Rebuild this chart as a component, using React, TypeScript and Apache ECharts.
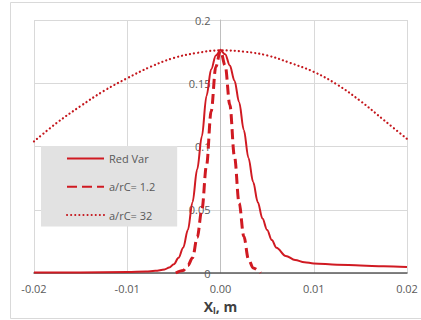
import React, { useEffect, useRef } from "react";
import * as echarts from "echarts";

const seriesNames = ["Red Var", "a/rC= 1.2", "a/rC= 32"];

const redVarX = [-0.02, -0.015, -0.01, -0.008, -0.007, -0.006, -0.0055, -0.005, -0.0045, -0.004, -0.0035, -0.003, -0.0025, -0.002, -0.0015, -0.001, -0.0005, 0, 0.0005, 0.001, 0.0015, 0.002, 0.0025, 0.003, 0.0035, 0.004, 0.0045, 0.005, 0.0055, 0.006, 0.007, 0.008, 0.009, 0.01, 0.0125, 0.015, 0.0175, 0.02];
const redVarY = [0.0003, 0.0004, 0.0007, 0.0012, 0.0017, 0.0028, 0.0043, 0.007, 0.012, 0.02, 0.034, 0.056, 0.082, 0.108, 0.14, 0.161, 0.172, 0.176, 0.173, 0.164, 0.152, 0.135, 0.113, 0.091, 0.072, 0.056, 0.043, 0.034, 0.026, 0.02, 0.0135, 0.0103, 0.0085, 0.0076, 0.0066, 0.0059, 0.0053, 0.0047];

const dashX = [-0.0048, -0.004, -0.0035, -0.003, -0.0025, -0.002, -0.0015, -0.001, -0.0005, 0, 0.0005, 0.001, 0.0015, 0.002, 0.0025, 0.003, 0.0035, 0.0043];
const dashY = [0.0, 0.002, 0.006, 0.012, 0.028, 0.05, 0.085, 0.128, 0.163, 0.176, 0.164, 0.133, 0.092, 0.055, 0.029, 0.011, 0.004, 0.0];

const dotX = [-0.02, -0.0175, -0.015, -0.0125, -0.01, -0.0075, -0.005, -0.0025, 0, 0.0025, 0.005, 0.0075, 0.01, 0.0125, 0.015, 0.0175, 0.02];
const dotY = [0.104, 0.119, 0.132, 0.144, 0.154, 0.163, 0.17, 0.174, 0.176, 0.175, 0.172, 0.166, 0.159, 0.149, 0.136, 0.121, 0.106];

const xTicks = [-0.02, -0.01, 0, 0.01, 0.02];
const yTicks = [0, 0.05, 0.1, 0.15, 0.2];

const RED = "#d01a22";

function pairs(xs: number[], ys: number[]) {
  return xs.map((x, i) => [x, ys[i]]);
}

export default function App() {
  const ref = useRef<HTMLDivElement>(null);
  useEffect(() => {
    document.body.style.margin = "0";
    if (!ref.current) return;
    const chart = echarts.init(ref.current, undefined, { renderer: "svg" });
    const font = "'Open Sans', 'Liberation Sans', sans-serif";
    const gridLeft = 34;
    const gridRight = 14;
    const plotW = 421 - gridLeft - gridRight;
    const zeroOffset = -plotW * ((0 - xTicks[0]) / (xTicks[xTicks.length - 1] - xTicks[0]));
    chart.setOption({
      animation: false,
      textStyle: { fontFamily: font },
      graphic: [
        {
          type: "rect",
          shape: { x: 10.5, y: 2.5, width: 420, height: 316 },
          style: { fill: "none", stroke: "#d9d9d9", lineWidth: 1 },
          silent: true,
          z: -10,
        },
      ],
      grid: { left: gridLeft, right: gridRight, top: 20, bottom: 44, containLabel: false },
      legend: {
        left: 41,
        top: 146,
        orient: "vertical",
        backgroundColor: "#e2e2e2",
        padding: [7, 22, 6, 25],
        itemGap: 17,
        itemWidth: 37,
        itemHeight: 14,
        data: seriesNames,
        itemStyle: { opacity: 0 },
        textStyle: { fontSize: 11, color: "#595959", fontFamily: font },
      },
      xAxis: {
        type: "value",
        min: xTicks[0],
        max: xTicks[xTicks.length - 1],
        interval: 0.01,
        name: "{x|X}{s|l}{x|, m}",
        nameLocation: "middle",
        nameGap: 25,
        nameTextStyle: {
          rich: {
            x: { fontSize: 14, fontWeight: "bold", color: "#404040", fontFamily: font },
            s: { fontSize: 9, fontWeight: "bold", color: "#404040", fontFamily: font, padding: [8, 0, 0, 0] },
          },
        },
        axisLine: { onZero: false, lineStyle: { color: "#595959", width: 1.5 } },
        axisTick: { show: false },
        axisLabel: {
          fontSize: 11,
          color: "#595959",
          margin: 10,
          formatter: (v: number) => v.toFixed(2),
        },
        splitLine: { show: true, lineStyle: { color: "#d9d9d9", width: 1 } },
      },
      yAxis: {
        type: "value",
        min: 0,
        max: 0.2,
        interval: 0.05,
        offset: zeroOffset,
        axisLine: { show: true, onZero: false, lineStyle: { color: "#bfbfbf", width: 1 } },
        axisTick: { show: false },
        axisLabel: {
          fontSize: 11,
          color: "#595959",
          margin: 10,
          formatter: (v: number) => String(yTicks.find((t) => Math.abs(t - v) < 1e-9) ?? v),
        },
        splitLine: { show: true, lineStyle: { color: "#d9d9d9", width: 1 } },
      },
      series: [
        {
          name: seriesNames[0],
          type: "line",
          data: pairs(redVarX, redVarY),
          smooth: 0.35,
          smoothMonotone: "x",
          symbol: "none",
          lineStyle: { color: RED, width: 2 },
          itemStyle: { color: RED },
          z: 3,
        },
        {
          name: seriesNames[1],
          type: "line",
          data: pairs(dashX, dashY),
          smooth: 0.35,
          smoothMonotone: "x",
          symbol: "none",
          lineStyle: { color: RED, width: 3, type: [10, 5] },
          itemStyle: { color: RED },
          z: 3,
        },
        {
          name: seriesNames[2],
          type: "line",
          data: pairs(dotX, dotY),
          smooth: 0.4,
          symbol: "none",
          lineStyle: { color: "#c4161c", width: 2.2, type: [0.1, 4], cap: "round" },
          itemStyle: { color: "#c4161c" },
          z: 3,
        },
      ],
    });
    return () => chart.dispose();
  }, []);
  return <div ref={ref} style={{ width: 421, height: 320 }} />;
}
